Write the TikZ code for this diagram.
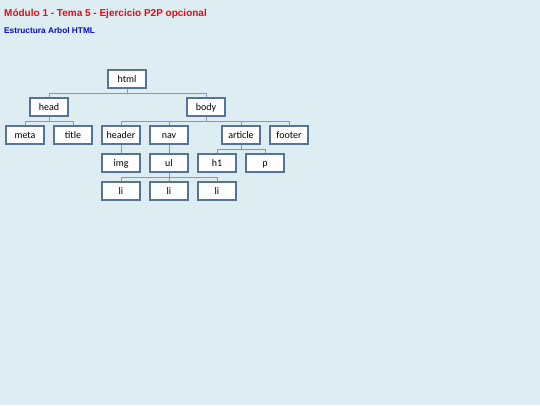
\documentclass[tikz,border=0pt]{standalone}
\usepackage{fontspec}
\setmainfont{Carlito}
\newfontfamily\arialfont{Liberation Sans}
\definecolor{bgcol}{RGB}{221,237,241}
\definecolor{boxline}{RGB}{85,115,155}
\definecolor{conline}{RGB}{120,155,195}
\definecolor{titlered}{RGB}{230,10,20}
\definecolor{subblue}{RGB}{10,10,200}
\begin{document}
\begin{tikzpicture}[x=1pt,y=-1pt,
  treebox/.style={draw=boxline,line width=1.8pt,fill=white,minimum width=38.2pt,minimum height=18.2pt,inner sep=0pt,text height=6.6pt,text depth=0pt,font=\fontsize{10}{12}\selectfont},
  conn/.style={draw=conline,line width=1pt}]
\fill[bgcol] (0,0) rectangle (540,405);
\useasboundingbox (0,0) rectangle (540,405);
\node[anchor=base west,text=titlered,font=\arialfont\bfseries\fontsize{10}{12}\selectfont,inner sep=0pt] (t1) at (4,16.5) {Módulo 1 - Tema 5 - Ejercicio P2P opcional};
\node[anchor=base west,text=subblue,font=\arialfont\bfseries\fontsize{8.3}{10}\selectfont,inner sep=0pt] (t2) at (4,33) {Estructura Arbol HTML};
\coordinate (c1) at (127,93);
\coordinate (c2) at (49,121);
\coordinate (c3) at (206,121);
\coordinate (c4) at (241,149);
\coordinate (c5) at (169,177);
\draw[conn] (127,79) -- (c1);
\draw[conn] (c1) -| (49,107);
\draw[conn] (c1) -| (206,107);
\draw[conn] (49,107) -- (c2);
\draw[conn] (c2) -| (25,135);
\draw[conn] (c2) -| (73,135);
\draw[conn] (206,107) -- (c3);
\draw[conn] (c3) -| (121,135);
\draw[conn] (c3) -| (169,135);
\draw[conn] (c3) -| (241,135);
\draw[conn] (c3) -| (289,135);
\draw[conn] (121,135) -- (121,163);
\draw[conn] (169,135) -- (169,163);
\draw[conn] (241,135) -- (c4);
\draw[conn] (c4) -| (217,163);
\draw[conn] (c4) -| (265,163);
\draw[conn] (169,163) -- (c5);
\draw[conn] (c5) -| (121,191);
\draw[conn] (c5) -| (169,191);
\draw[conn] (c5) -| (217,191);
\node[treebox] (html) at (127,79) {html};
\node[treebox] (head) at (49,107) {head};
\node[treebox] (body) at (206,107) {body};
\node[treebox] (meta) at (25,135) {meta};
\node[treebox] (title) at (73,135) {title};
\node[treebox] (header) at (121,135) {header};
\node[treebox] (nav) at (169,135) {nav};
\node[treebox] (article) at (241,135) {article};
\node[treebox] (footer) at (289,135) {footer};
\node[treebox] (img) at (121,163) {img};
\node[treebox] (ul) at (169,163) {ul};
\node[treebox] (h1) at (217,163) {h1};
\node[treebox] (p) at (265,163) {p};
\node[treebox] (li1) at (121,191) {li};
\node[treebox] (li2) at (169,191) {li};
\node[treebox] (li3) at (217,191) {li};
\end{tikzpicture}
\end{document}
